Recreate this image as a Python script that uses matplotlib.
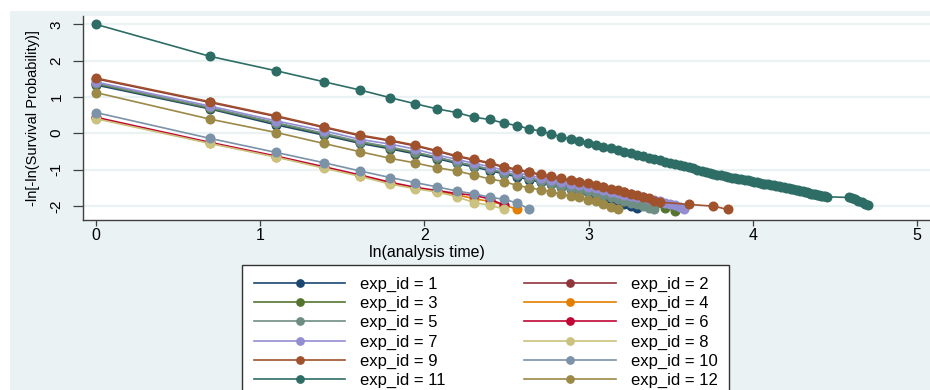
import matplotlib
matplotlib.use('Agg')
import matplotlib.pyplot as plt
import numpy as np
from matplotlib.patches import Rectangle

plt.rcParams['font.family'] = ['Liberation Sans', 'DejaVu Sans']
plt.rcParams['axes.unicode_minus'] = False

# ---------------- data ----------------
t1 = [1, 2, 3, 4, 5, 6, 7, 8, 9, 10, 11, 12, 13, 14, 15, 16, 17, 18, 19, 20, 21, 22, 23, 24, 25, 26, 27]
y1 = [1.33, 0.67, 0.23, -0.05, -0.28, -0.43, -0.57, -0.70, -0.83, -0.93, -1.03, -1.12, -1.20, -1.28,
      -1.35, -1.41, -1.47, -1.53, -1.58, -1.63, -1.69, -1.75, -1.81, -1.88, -1.94, -2.00, -2.06]

t2 = [1, 2, 3, 4, 5, 6, 7, 8, 9, 10, 11, 12, 13, 14, 15, 16, 17, 18, 19, 20, 21, 22, 23, 24, 25, 26, 27, 28, 29, 30]
y2 = [1.50, 0.85, 0.46, 0.16, -0.07, -0.21, -0.35, -0.50, -0.64, -0.74, -0.83, -0.94, -1.01, -1.08,
      -1.15, -1.21, -1.26, -1.31, -1.35, -1.40, -1.44, -1.49, -1.55, -1.59, -1.63, -1.68, -1.72, -1.77, -1.81, -1.88]

t3 = [1, 2, 3, 4, 5, 6, 7, 8, 9, 10, 11, 12, 13, 14, 15, 16, 17, 18, 19, 20, 21, 22, 23, 24, 25, 26, 27, 28, 29, 30, 32, 34]
y3 = [1.36, 0.69, 0.27, -0.02, -0.25, -0.40, -0.54, -0.67, -0.80, -0.90, -0.99, -1.09, -1.16, -1.23,
      -1.30, -1.36, -1.41, -1.46, -1.51, -1.56, -1.61, -1.66, -1.71, -1.75, -1.79, -1.84, -1.88, -1.92,
      -1.96, -2.00, -2.06, -2.13]

t4 = [1, 2, 3, 4, 5, 6, 7, 8, 9, 10, 11, 12, 13]
y4 = [0.42, -0.27, -0.65, -0.94, -1.17, -1.37, -1.51, -1.60, -1.70, -1.80, -1.88, -1.97, -2.10]

t5 = [1, 2, 3, 4, 5, 6, 7, 8, 9, 10, 11, 12, 13, 14, 15, 16, 17, 18, 19, 20, 21, 22, 23, 24, 25, 26, 27, 28, 29, 30]
y5 = [1.38, 0.71, 0.29, 0.00, -0.23, -0.38, -0.52, -0.66, -0.79, -0.89, -0.99, -1.09, -1.16, -1.24,
      -1.31, -1.38, -1.44, -1.50, -1.55, -1.60, -1.65, -1.70, -1.75, -1.80, -1.86, -1.91, -1.96, -2.01, -2.05, -2.10]

t6 = [1, 2, 3, 4, 5, 6, 7, 8, 9, 10, 11, 12]
y6 = [0.44, -0.25, -0.63, -0.92, -1.15, -1.35, -1.49, -1.58, -1.66, -1.71, -1.81, -1.98]

t7 = [1, 2, 3, 4, 5, 6, 7, 8, 9, 10, 11, 12, 13, 14, 15, 16, 17, 18, 19, 20, 21, 22, 23, 24, 25, 26, 27,
      28, 29, 30, 31, 32, 33, 34, 35, 36]
y7 = [1.41, 0.75, 0.34, 0.07, -0.17, -0.30, -0.44, -0.60, -0.72, -0.83, -0.92, -1.02, -1.09, -1.16,
      -1.23, -1.29, -1.34, -1.39, -1.43, -1.48, -1.52, -1.57, -1.61, -1.65, -1.69, -1.73, -1.75, -1.77,
      -1.81, -1.85, -1.88, -1.92, -1.96, -1.99, -2.03, -2.08]

t8 = [1, 2, 3, 4, 5, 6, 7, 8, 9, 10, 11, 12]
y8 = [0.40, -0.28, -0.66, -0.96, -1.19, -1.40, -1.53, -1.62, -1.75, -1.91, -1.98, -2.09]

t9 = [1, 2, 3, 4, 5, 6, 7, 8, 9, 10, 11, 12, 13, 14, 15, 16, 17, 18, 19, 20, 21, 22, 23, 24, 25, 26, 27,
      28, 29, 30, 31, 37, 43, 47]
y9 = [1.52, 0.87, 0.48, 0.18, -0.05, -0.19, -0.33, -0.48, -0.62, -0.72, -0.81, -0.92, -0.99, -1.06,
      -1.13, -1.19, -1.24, -1.29, -1.33, -1.38, -1.42, -1.47, -1.53, -1.57, -1.61, -1.66, -1.70, -1.75,
      -1.79, -1.86, -1.90, -1.96, -2.01, -2.10]

t10 = [1, 2, 3, 4, 5, 6, 7, 8, 9, 10, 11, 12, 13, 14]
y10 = [0.57, -0.14, -0.53, -0.81, -1.04, -1.22, -1.36, -1.48, -1.59, -1.67, -1.76, -1.82, -1.92, -2.09]

t11 = [1, 2, 3, 4, 5, 6, 7, 8, 9, 10, 11, 12, 13, 14, 15, 16, 17, 18, 19, 20, 21, 22, 23, 24, 25, 26,
       27, 28, 29, 30, 31, 32, 33, 34, 35, 36, 37, 38, 39, 40, 41, 42, 43, 44, 45, 46, 47, 48, 49, 50,
       51, 52, 53, 54, 55, 56, 57, 58, 59, 60, 61, 62, 63, 64, 65, 66, 67, 68, 69, 70, 71, 72, 73, 74,
       75, 76, 77, 78, 79, 80, 81, 82, 83, 84, 85, 86, 98, 100, 102, 104, 106, 108, 110]
y11 = [3.00, 2.12, 1.72, 1.42, 1.19, 0.98, 0.81, 0.67, 0.57, 0.44, 0.38, 0.28, 0.21, 0.12, 0.06, -0.02,
       -0.10, -0.16, -0.21, -0.27, -0.32, -0.37, -0.42, -0.46, -0.51, -0.55, -0.59, -0.63, -0.67, -0.71,
       -0.75, -0.78, -0.82, -0.85, -0.88, -0.91, -0.94, -0.97, -1.00, -1.03, -1.06, -1.09, -1.12, -1.14,
       -1.16, -1.18, -1.20, -1.22, -1.24, -1.26, -1.27, -1.29, -1.30, -1.32, -1.33, -1.35, -1.37, -1.39,
       -1.40, -1.41, -1.42, -1.43, -1.44, -1.46, -1.47, -1.48, -1.50, -1.51, -1.53, -1.54, -1.56, -1.57,
       -1.59, -1.60, -1.62, -1.63, -1.65, -1.66, -1.67, -1.68, -1.69, -1.70, -1.72, -1.73, -1.74, -1.75,
       -1.77, -1.79, -1.82, -1.86, -1.90, -1.94, -1.98]

t12 = [1, 2, 3, 4, 5, 6, 7, 8, 9, 10, 11, 12, 13, 14, 15, 16, 17, 18, 19, 20, 21, 22, 23, 24]
y12 = [1.12, 0.39, 0.02, -0.28, -0.51, -0.69, -0.82, -0.95, -1.04, -1.15, -1.26, -1.33, -1.44, -1.50,
       -1.56, -1.61, -1.68, -1.73, -1.77, -1.84, -1.88, -1.94, -2.02, -2.10]

series_ids = [1, 2, 3, 4, 5, 6, 7, 8, 9, 10, 11, 12]
series_t = [t1, t2, t3, t4, t5, t6, t7, t8, t9, t10, t11, t12]
series_y = [y1, y2, y3, y4, y5, y6, y7, y8, y9, y10, y11, y12]
colors = ['#1A476F', '#90353B', '#55752F', '#E37E00', '#6E8E84', '#C10534',
          '#938DD2', '#CAC27E', '#A0522D', '#7B92A8', '#2D6D66', '#9C8847']
x_ticks = [0, 1, 2, 3, 4, 5]
y_ticks = [-2, -1, 0, 1, 2, 3]

# ---------------- figure ----------------
W, H = 930, 390
fig = plt.figure(figsize=(W / 100, H / 100), dpi=100, facecolor='white')
bg = Rectangle((10 / W, 0), 1, (H - 11) / H, transform=fig.transFigure,
               facecolor='#EAF2F3', edgecolor='none', zorder=-10)
fig.add_artist(bg)

ax = fig.add_axes([83 / W, 1 - 220 / H, 1 - 83 / W, (220 - 16) / H])
ax.set_zorder(1)
ax.set_facecolor('white')

handles = {}
for sid, tt, yy, c in zip(series_ids, series_t, series_y, colors):
    ln, = ax.plot(np.log(tt), yy, color=c, lw=1.2, marker='o', ms=6.2,
                  mfc=c, mec=c, label=f'exp_id = {sid}')
    handles[sid] = ln

ax.set_xlim(-0.079, 5.08)
ax.set_ylim(-2.39, 3.23)
ax.set_xticks(x_ticks)
ax.set_yticks(y_ticks)
ax.yaxis.grid(True, color='#EAF2F3', lw=1.6)
ax.set_axisbelow(True)

for s in ['top', 'right']:
    ax.spines[s].set_visible(False)
for s in ['left', 'bottom']:
    ax.spines[s].set_color('#404040')
    ax.spines[s].set_linewidth(1.0)

ax.tick_params(axis='x', length=4.5, width=0.9, color='#404040', pad=1.5, labelsize=11.5)
ax.tick_params(axis='y', length=7, width=0.9, color='#404040', pad=7, labelsize=11,
               labelrotation=90)
for lab in ax.get_yticklabels():
    lab.set_va('center')

fig.text(33 / W, 1 - 118 / H, '-ln[-ln(Survival Probability)]', rotation=90,
         ha='center', va='center', fontsize=10.5)
fig.text(427 / W, 1 - 245 / H, 'ln(analysis time)', ha='center', va='top', fontsize=11.5)

order = [1, 3, 5, 7, 9, 11, 2, 4, 6, 8, 10, 12]
leg = fig.legend([handles[i] for i in order], [handles[i].get_label() for i in order],
                 ncol=2, loc='upper left', bbox_to_anchor=(242 / W, 1 - 265 / H),
                 frameon=True, fancybox=False, framealpha=1, edgecolor='#333333',
                 fontsize=12, handlelength=5.5, handletextpad=0.9, columnspacing=4.7,
                 labelspacing=0.25, borderpad=0.7, borderaxespad=0, numpoints=1,
                 markerscale=0.85)
leg.get_frame().set_linewidth(1.0)
leg.set_zorder(5)

fig.savefig('out.png', dpi=100, facecolor='white')
